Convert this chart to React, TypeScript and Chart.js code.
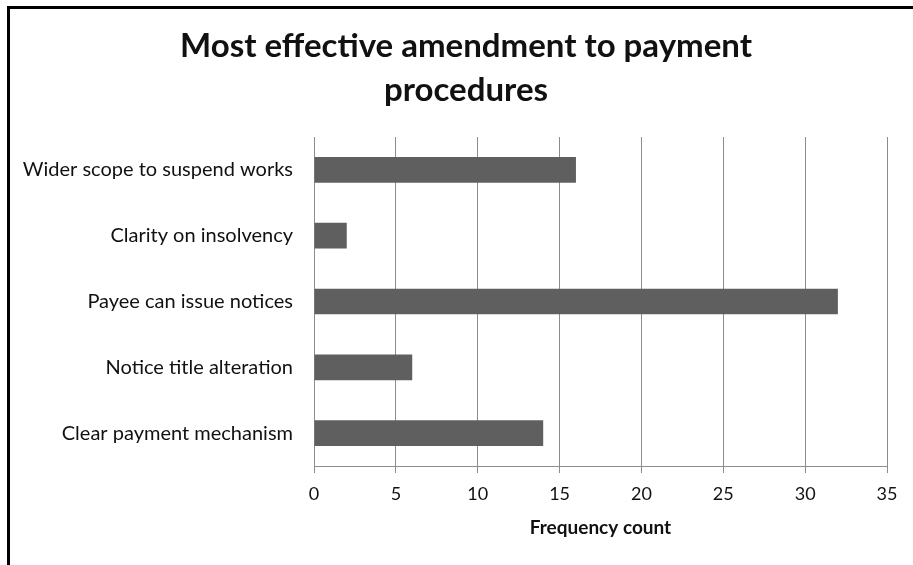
import React, { useEffect, useRef } from "react";
import { Chart, registerables } from "chart.js";

Chart.register(...registerables);

// Survey responses: most effective amendment to payment procedures
const categories = [
  "Wider scope to suspend works",
  "Clarity on insolvency",
  "Payee can issue notices",
  "Notice title alteration",
  "Clear payment mechanism",
];
const frequency = [16, 2, 32, 6, 14];
const titleLines = ["Most effective amendment to payment", "procedures"];
const xAxisTitle = "Frequency count";
const xMin = 0;
const xMax = 35;
const xStep = 5;

const FONT = "Lato, 'Open Sans', sans-serif";
const GRID = "#8c8c8c";
const TEXT = "#111111";

const PLOT_LEFT = 314;

// Two-line chart heading, centred a little right of the canvas middle
const headingPlugin = {
  id: "heading",
  afterDraw(chart: any) {
    const ctx = chart.ctx as CanvasRenderingContext2D;
    ctx.save();
    ctx.fillStyle = TEXT;
    ctx.font = `bold 33px ${FONT}`;
    ctx.textAlign = "center";
    ctx.textBaseline = "alphabetic";
    const cx = 466;
    const firstBaseline = 57;
    const lineGap = 44;
    titleLines.forEach((line, i) => {
      ctx.fillText(line, cx, firstBaseline + i * lineGap);
    });
    ctx.restore();
  },
};

export default function App() {
  const canvasRef = useRef<HTMLCanvasElement | null>(null);

  useEffect(() => {
    const canvas = canvasRef.current;
    if (!canvas) return;
    const chart = new Chart(canvas, {
      type: "bar",
      data: {
        labels: categories,
        datasets: [
          {
            data: frequency,
            backgroundColor: "#5f5f5f",
            borderWidth: 0,
            barPercentage: 0.39,
            categoryPercentage: 1,
          },
        ],
      },
      plugins: [headingPlugin],
      options: {
        indexAxis: "y",
        responsive: false,
        animation: false,
        maintainAspectRatio: false,
        layout: { padding: { left: 0, right: 26, top: 137, bottom: 20 } },
        plugins: {
          legend: { display: false },
          tooltip: { enabled: false },
          title: { display: false },
        },
        scales: {
          x: {
            min: xMin,
            max: xMax,
            ticks: {
              stepSize: xStep,
              color: TEXT,
              padding: 10,
              font: { family: FONT, size: 18 },
            },
            grid: {
              color: GRID,
              lineWidth: 1,
              tickLength: 7,
              drawTicks: true,
            },
            border: { display: true, color: GRID, width: 1 },
            title: {
              display: true,
              text: xAxisTitle,
              color: TEXT,
              font: { family: FONT, size: 19, weight: "bold" },
              padding: { top: 0, bottom: 6 },
            },
            afterFit: (scale: any) => {
              scale.height = 79;
            },
          },
          y: {
            ticks: {
              color: TEXT,
              padding: 21,
              font: { family: FONT, size: 20 },
            },
            grid: { display: false, drawTicks: false },
            border: { display: true, color: GRID, width: 1 },
            afterFit: (scale: any) => {
              scale.width = PLOT_LEFT;
            },
          },
        },
      },
    });
    return () => chart.destroy();
  }, []);

  return (
    <div
      style={{
        position: "fixed",
        left: 0,
        top: 0,
        width: 913,
        height: 565,
        overflow: "hidden",
        background: "#ffffff",
      }}
    >
      <canvas
        ref={canvasRef}
        width={913}
        height={565}
        style={{ position: "absolute", left: 0, top: 0, width: 913, height: 565 }}
      />
      <div
        style={{
          position: "absolute",
          left: 7,
          top: 6,
          width: 1200,
          height: 1200,
          borderLeft: "3px solid #000",
          borderTop: "3px solid #000",
          pointerEvents: "none",
        }}
      />
    </div>
  );
}
